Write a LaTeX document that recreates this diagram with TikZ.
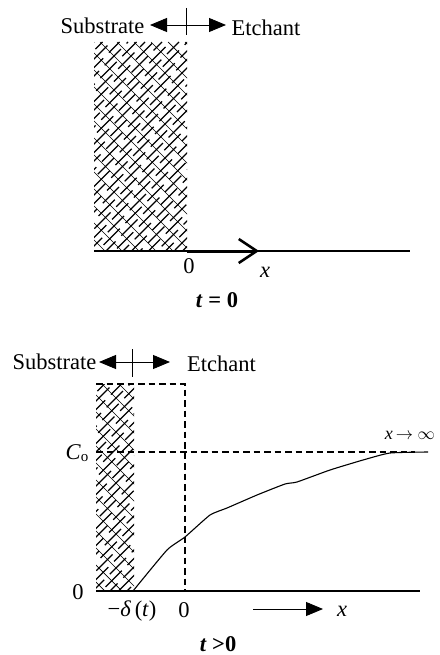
\documentclass[tikz,border=0pt]{standalone}
\usepackage{fontspec}
\setmainfont{Liberation Serif}
\usetikzlibrary{arrows.meta, positioning}

% brick hatch inside a box: left, top, right, bottom
\newcommand{\brickfill}[4]{
  \begin{scope}
    \clip (#1,#2) rectangle (#3,#4);
    \foreach \i in {-300,-283,...,300} {
      \draw[line width=0.7pt] (#1+\i,#2) -- ++(300,300);
    }
    \foreach \n in {0,...,70} {
      \pgfmathsetmacro{\shift}{mod(\n*13,31)}
      \draw[line width=1.25pt, dash pattern=on 23pt off 8pt, dash phase=\shift pt] (#1+\n*8.5,#2) -- ++(-300,300);
    }
  \end{scope}
}

\begin{document}
\begin{tikzpicture}[
    x=1pt, y=-1pt,
    label/.style={inner sep=0pt, font=\fontsize{22.5}{24}\selectfont},
    title/.style={inner sep=0pt, font=\fontsize{22.5}{24}\selectfont\bfseries},
    axis/.style={line width=1.2pt},
    tick/.style={line width=0.9pt},
    dir/.style={line width=0.9pt, -{Triangle[length=17pt, width=14pt]}},
    guide/.style={line width=1.5pt, dash pattern=on 6.5pt off 4pt}
]
\useasboundingbox (0,0) rectangle (439,655);

% upper sketch
\brickfill{94}{42}{187}{251}
\node (subA) [label] at (102.5,26) {Substrate};
\node (etchA) [label] at (266,28) {Etchant};
\coordinate (midA) at (186.5,25);
\coordinate (tickAtop) at (186.5,8);
\coordinate (tickAbot) at (186.5,35);
\coordinate (leftA) at (150,25);
\coordinate (rightA) at (226,25);
\coordinate (startA) at (94,251);
\coordinate (zeroA) at (187,251);
\coordinate (headA) at (259,251);
\coordinate (endA) at (410,251);
\node (origA) [label] at (189,266) {0};
\node (xA) [label] at (265,272) {\textit{x}};
\node (timeA) [title] at (217,300) {\textit{t} = 0};

\draw [tick] (tickAtop) -- (tickAbot);
\draw [dir] (midA) -- (leftA);
\draw [dir] (midA) -- (rightA);
\draw [axis] (startA) -- (endA);
\draw [line width=3pt, -{Straight Barb[length=18pt, width=24pt, line width=2.5pt]}] (zeroA) -- (headA);

% lower sketch
\brickfill{96}{384}{134}{591}
\node (subB) [label] at (54.5,362) {Substrate};
\node (etchB) [label] at (221.5,364) {Etchant};
\coordinate (midB) at (132,362);
\coordinate (tickBtop) at (132,349);
\coordinate (tickBbot) at (132,377);
\coordinate (leftB) at (99,362);
\coordinate (rightB) at (170,362);
\coordinate (cornerL) at (96,384);
\coordinate (cornerR) at (185,384);
\coordinate (zeroB) at (185,591);
\coordinate (levelL) at (96,452);
\coordinate (levelR) at (415,452);
\coordinate (startB) at (96,591);
\coordinate (endB) at (420,591);
\coordinate (frontB) at (133,591);
\coordinate (tailB) at (253,609);
\coordinate (headB) at (323,609);
\node (conc) [label] at (77,453) {\textit{C}\raisebox{-2pt}{\fontsize{15}{16}\selectfont o}};
\node (limit) [label] at (410,435) {\fontsize{18}{20}\selectfont\textit{x}\,$\rightarrow$ $\infty$};
\node (base) [label] at (78,592) {0};
\node (delta) [label] at (132,611) {−\textit{δ}\,(\textit{t})};
\node (origB) [label] at (184,610) {0};
\node (xB) [label] at (342,611) {\textit{x}};
\node (timeB) [title] at (218,644) {\textit{t} >0};

\draw [tick] (tickBtop) -- (tickBbot);
\draw [dir] (midB) -- (leftB);
\draw [dir] (midB) -- (rightB);
\draw [guide] (cornerL) -- (cornerR) -- (zeroB);
\draw [guide] (levelL) -- (levelR);
\draw [axis] (startB) -- (endB);
\draw [line width=1.1pt] plot [smooth, tension=0.3] coordinates {(frontB) (167,550) (185,537) (210,515) (227,508) (257,495) (285,484) (297,482) (330,470) (363,460) (390,453) (428,452)};
\draw [dir] (tailB) -- (headB);

\end{tikzpicture}
\end{document}
